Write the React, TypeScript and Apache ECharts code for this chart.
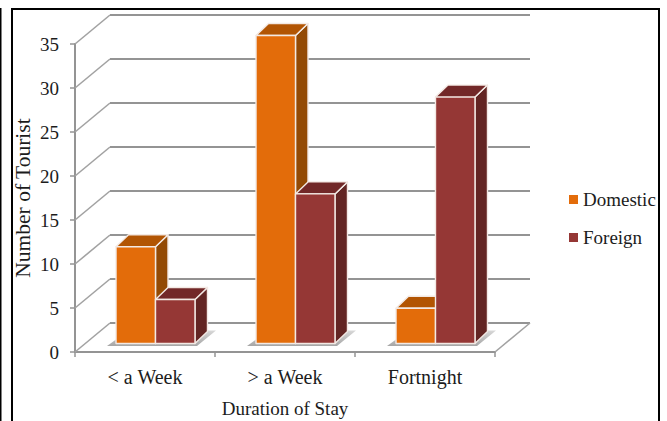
import React, { useEffect, useRef } from "react";
import * as echarts from "echarts";

const categories = ["< a Week", "> a Week", "Fortnight"];
const domestic = [11, 35, 4];
const foreign = [5, 17, 28];
const yTicks = [0, 5, 10, 15, 20, 25, 30, 35];

const FONT = '"Liberation Serif", "Times New Roman", serif';
const TEXT = "#1c1c1c";
const GRID_LINE = "#949494";

// Pseudo-3D projection in pixels
const WALL_DX = 35;
const WALL_DY = -29;
const PLANE_DX = 10.5;
const PLANE_DY = -8.5;
const DEPTH_DX = 12.5;
const DEPTH_DY = -12;
const BAR_RATIO = 0.282;

type Faces = { front: string; top: string; side: string };
const DOMESTIC_FACES: Faces = { front: "#E36C0A", top: "#B25503", side: "#934A05" };
const FOREIGN_FACES: Faces = { front: "#953735", top: "#722828", side: "#632523" };
const EDGE = "#f3e9e4";

const renderBar = (seriesPos: number, faces: Faces) => (_: any, api: any) => {
  const cat = api.value(0);
  const val = api.value(1);
  const band = api.size([1, 0])[0];
  const w = band * BAR_RATIO;
  const top = api.coord([cat, val]);
  const base = api.coord([cat, 0]);
  const x0 = top[0] + PLANE_DX + (seriesPos - 1) * w;
  const x1 = x0 + w;
  const yt = top[1] + PLANE_DY;
  const yb = base[1] + PLANE_DY;
  const edge = { stroke: EDGE, lineWidth: 1.4, lineJoin: "round" };
  return {
    type: "group",
    children: [
      {
        type: "polygon",
        shape: {
          points: [
            [x1, yt],
            [x1 + DEPTH_DX, yt + DEPTH_DY],
            [x1 + DEPTH_DX, yb + DEPTH_DY],
            [x1, yb],
          ],
        },
        style: { fill: faces.side, ...edge },
      },
      {
        type: "polygon",
        shape: {
          points: [
            [x0, yt],
            [x0 + DEPTH_DX, yt + DEPTH_DY],
            [x1 + DEPTH_DX, yt + DEPTH_DY],
            [x1, yt],
          ],
        },
        style: { fill: faces.top, ...edge },
      },
      {
        type: "rect",
        shape: { x: x0, y: yt, width: w, height: yb - yt },
        style: { fill: faces.front, ...edge },
      },
    ],
  };
};

// Soft floor shadow under each pair of bars
const renderShadow = (_: any, api: any) => {
  const cat = api.value(0);
  const band = api.size([1, 0])[0];
  const w = band * BAR_RATIO;
  const base = api.coord([cat, 0]);
  const x0 = base[0] + PLANE_DX - w;
  const x1 = base[0] + PLANE_DX + w;
  const yb = base[1] + PLANE_DY;
  return {
    type: "polygon",
    shape: {
      points: [
        [x0 - 9, yb + 2.5],
        [x1 + 2, yb + 2.5],
        [x1 + 21, yb - 13],
        [x1 + 12, yb - 13],
        [x0, yb - 4],
      ],
    },
    style: {
      fill: new echarts.graphic.LinearGradient(0, 0, 0, 1, [
        { offset: 0, color: "#d8d8d8" },
        { offset: 1, color: "#a6a6a6" },
      ]),
    },
  };
};

// Left-wall diagonal plus back-wall line for one tick; the floor also gets its right edge
const renderGridLine = (_: any, api: any) => {
  const tick = api.value(1);
  const band = api.size([1, 0])[0];
  const p = api.coord([0, tick]);
  const left = p[0] - band / 2;
  const back = [left + WALL_DX, p[1] + WALL_DY];
  const right = [left + categories.length * band + WALL_DX, p[1] + WALL_DY];
  const children: any[] = [
    {
      type: "polyline",
      shape: { points: [[left, p[1]], back] },
      style: { stroke: "#a2a2a2", lineWidth: 1.6, fill: null },
    },
    {
      type: "polyline",
      shape: { points: [back, right] },
      style: { stroke: GRID_LINE, lineWidth: 2, fill: null },
    },
  ];
  if (tick === 0) {
    children.push({
      type: "polyline",
      shape: {
        points: [[left + categories.length * band, p[1]], right],
      },
      style: { stroke: "#a2a2a2", lineWidth: 1.6, fill: null },
    });
  }
  return { type: "group", children };
};

const frameBar = (x: number, y: number, width: number, height: number) => ({
  type: "rect",
  silent: true,
  shape: { x, y, width, height },
  style: { fill: "#000" },
});

export default function App() {
  const ref = useRef<HTMLDivElement>(null);

  useEffect(() => {
    const chart = echarts.init(ref.current!, null, { renderer: "svg" });
    chart.setOption({
      animation: false,
      backgroundColor: "#fff",
      textStyle: { fontFamily: FONT },
      grid: {
        left: 75,
        top: 44,
        width: 420,
        height: 308,
        containLabel: false,
        outerBoundsMode: "none",
      },
      xAxis: {
        type: "category",
        data: categories,
        name: "Duration of Stay",
        nameLocation: "middle",
        nameGap: 47,
        nameMoveOverlap: false,
        nameTextStyle: { fontFamily: FONT, fontSize: 19, color: TEXT },
        axisLine: { lineStyle: { color: GRID_LINE, width: 2 } },
        axisTick: { show: true, length: 5, alignWithLabel: false, lineStyle: { color: GRID_LINE, width: 1.5 } },
        axisLabel: { fontFamily: FONT, fontSize: 20, color: TEXT, margin: 15, interval: 0 },
        splitLine: { show: false },
      },
      yAxis: {
        type: "value",
        min: 0,
        max: 35,
        interval: 5,
        name: "Number of Tourist",
        nameLocation: "middle",
        nameGap: 41,
        nameMoveOverlap: false,
        nameTextStyle: { fontFamily: FONT, fontSize: 21.5, color: TEXT },
        axisLine: { show: true, lineStyle: { color: GRID_LINE, width: 2 } },
        axisTick: { show: true, length: 5, lineStyle: { color: GRID_LINE, width: 1.5 } },
        axisLabel: { fontFamily: FONT, fontSize: 19, color: TEXT, margin: 16 },
        splitLine: { show: false },
      },
      legend: {
        data: ["Domestic", "Foreign"],
        orient: "vertical",
        left: 569,
        top: 190,
        icon: "rect",
        itemWidth: 9,
        itemHeight: 9,
        itemGap: 19,
        padding: 0,
        textStyle: { fontFamily: FONT, fontSize: 19, color: TEXT },
      },
      graphic: [
        frameBar(11, 8, 649, 2),
        frameBar(11, 8, 2, 413),
        frameBar(658, 8, 2, 413),
        frameBar(0, 8, 1.5, 413),
      ],
      series: [
        {
          type: "custom",
          name: "wall",
          silent: true,
          renderItem: renderGridLine,
          data: yTicks.map((t) => [0, t]),
          z: 1,
        },
        {
          type: "custom",
          name: "floor shadow",
          silent: true,
          renderItem: renderShadow,
          data: categories.map((_, i) => [i, 0]),
          z: 2,
        },
        {
          type: "custom",
          name: "Domestic",
          renderItem: renderBar(0, DOMESTIC_FACES),
          itemStyle: { color: DOMESTIC_FACES.front },
          data: domestic.map((v, i) => [i, v]),
          z: 3,
        },
        {
          type: "custom",
          name: "Foreign",
          renderItem: renderBar(1, FOREIGN_FACES),
          itemStyle: { color: FOREIGN_FACES.front },
          data: foreign.map((v, i) => [i, v]),
          z: 4,
        },
      ],
    });
    return () => chart.dispose();
  }, []);

  return (
    <div
      ref={ref}
      style={{ position: "absolute", left: 0, top: 0, width: 667, height: 421 }}
    />
  );
}
